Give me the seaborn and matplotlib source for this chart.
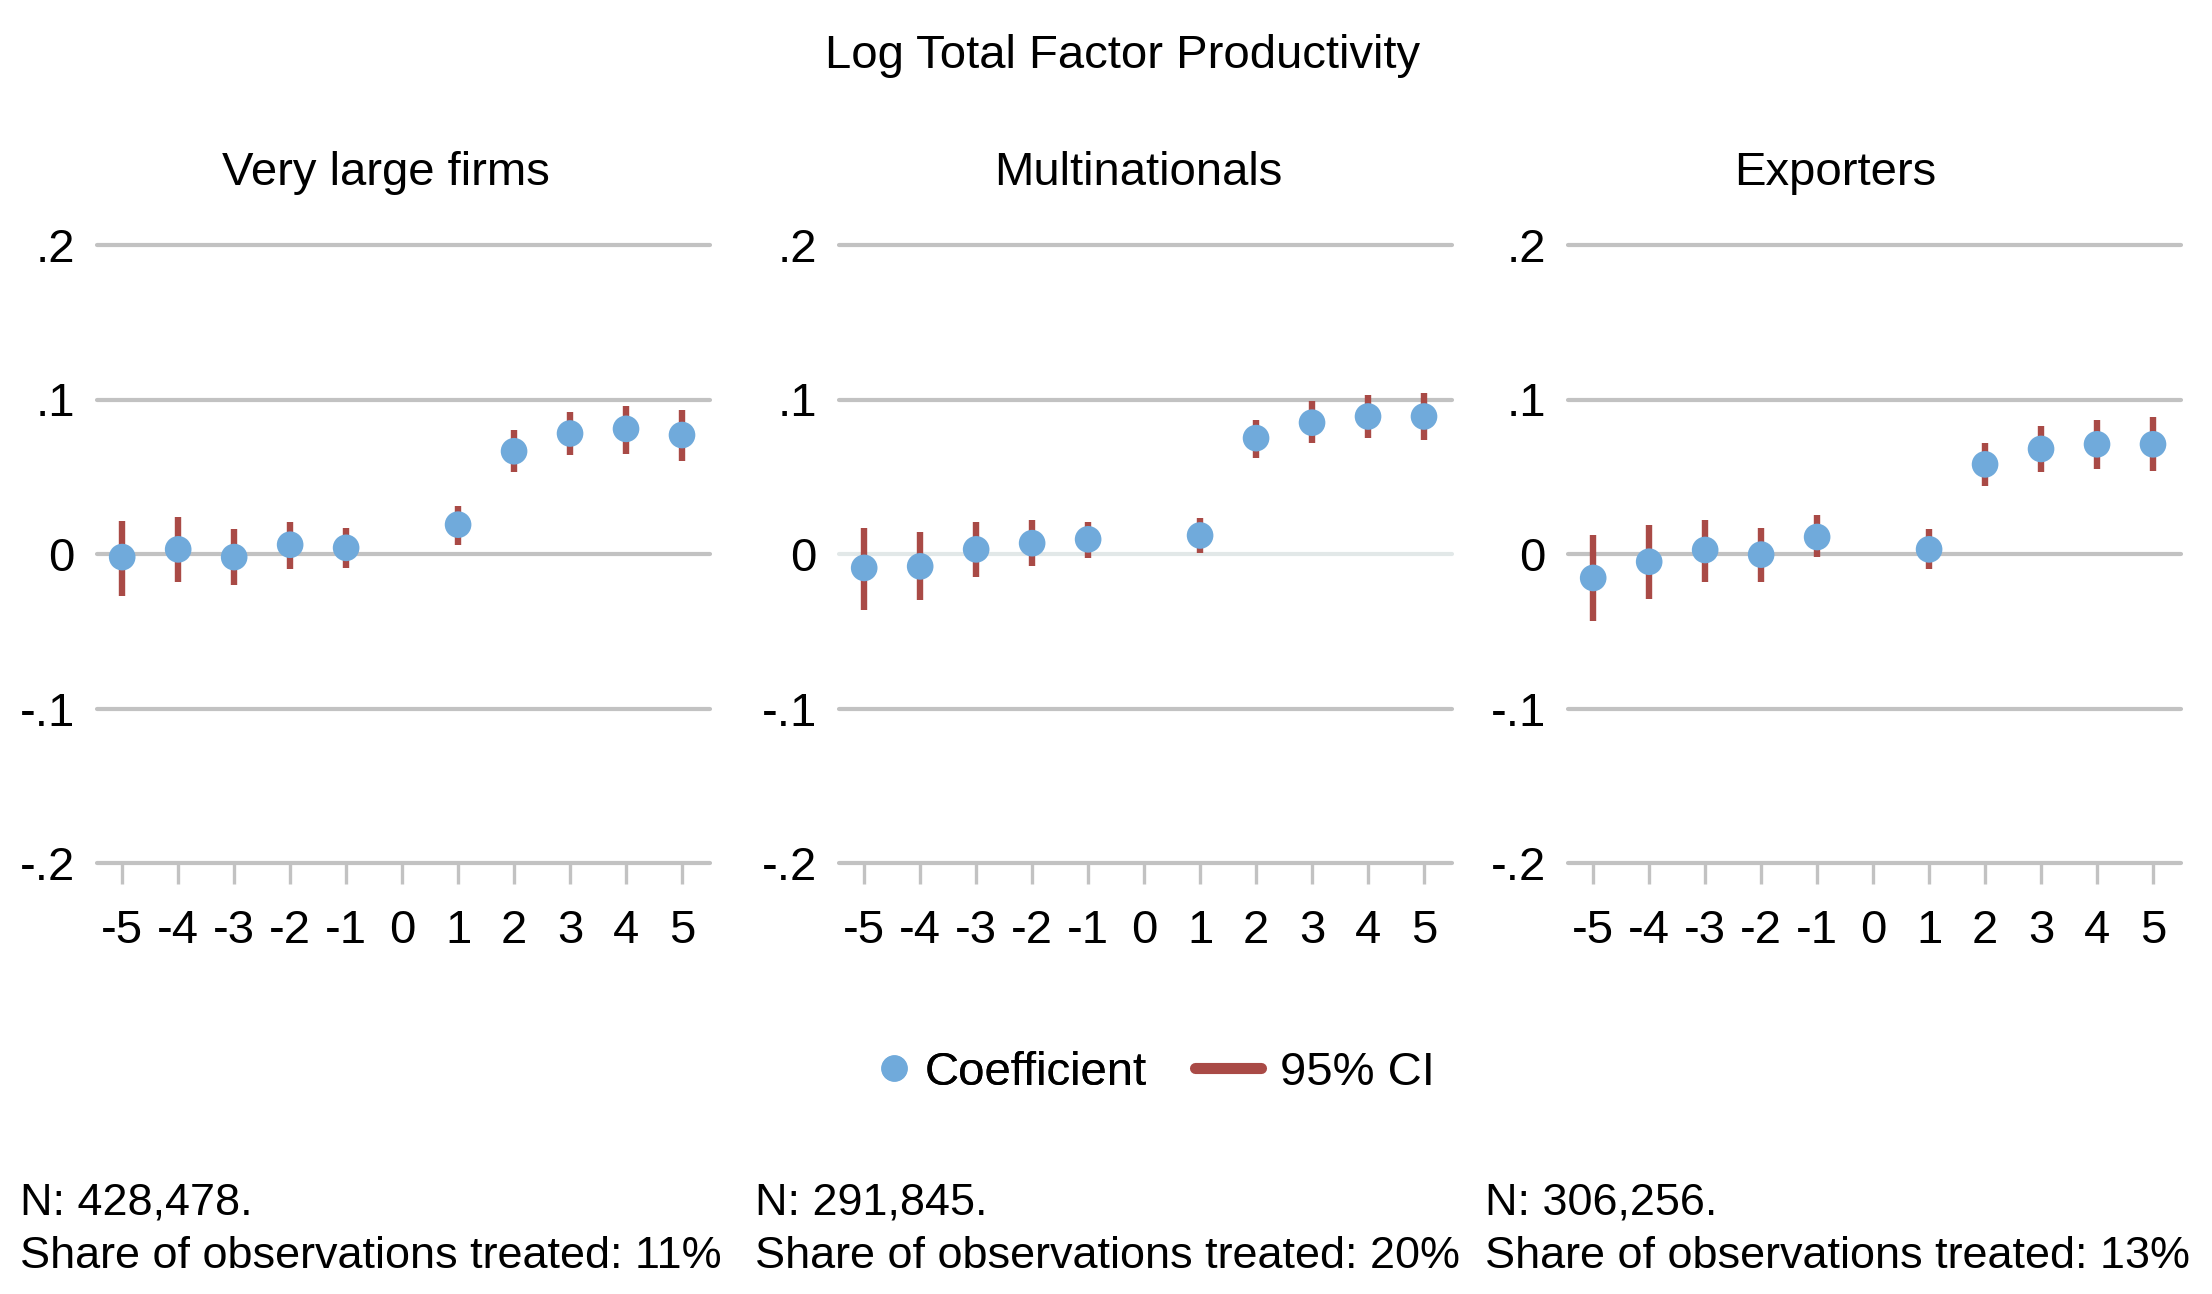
import numpy as np
import pandas as pd
import matplotlib
matplotlib.use("Agg")
import matplotlib.pyplot as plt
import seaborn as sns
from matplotlib.lines import Line2D

# ---------------- data ----------------
event_time = [-5, -4, -3, -2, -1, 1, 2, 3, 4, 5]
tick_values = [-5, -4, -3, -2, -1, 0, 1, 2, 3, 4, 5]
tick_labels = ["-5", "-4", "-3", "-2", "-1", "0", "1", "2", "3", "4", "5"]
ytick_values = [-0.2, -0.1, 0.0, 0.1, 0.2]
ytick_labels = ["-.2", "-.1", "0", ".1", ".2"]

panel_titles = ["Very large firms", "Multinationals", "Exporters"]

coef_large = [-0.002, 0.003, -0.002, 0.006, 0.004, 0.019, 0.0665, 0.078, 0.081, 0.077]
lo_large   = [-0.027, -0.018, -0.020, -0.010, -0.009, 0.006, 0.053, 0.064, 0.065, 0.060]
hi_large   = [0.0216, 0.024, 0.016, 0.021, 0.017, 0.031, 0.080, 0.092, 0.096, 0.093]

coef_multi = [-0.009, -0.008, 0.003, 0.007, 0.0095, 0.012, 0.075, 0.085, 0.089, 0.089]
lo_multi   = [-0.036, -0.030, -0.015, -0.008, -0.0026, 0.0004, 0.062, 0.072, 0.075, 0.074]
hi_multi   = [0.017, 0.014, 0.021, 0.022, 0.021, 0.023, 0.087, 0.099, 0.103, 0.104]

coef_exp = [-0.0155, -0.005, 0.0026, -0.0004, 0.011, 0.003, 0.058, 0.068, 0.071, 0.071]
lo_exp   = [-0.0436, -0.029, -0.018, -0.018, -0.002, -0.010, 0.044, 0.053, 0.055, 0.054]
hi_exp   = [0.012, 0.019, 0.022, 0.017, 0.025, 0.016, 0.072, 0.083, 0.087, 0.0886]

n_obs = ["428,478", "291,845", "306,256"]
share_treated = ["11%", "20%", "13%"]

main_title = "Log Total Factor Productivity"

# ---------------- style ----------------
sns.set_theme(style="white")
plt.rcParams["font.family"] = ["Liberation Sans", "DejaVu Sans"]
plt.rcParams["axes.unicode_minus"] = False
plt.rcParams["text.color"] = "black"
plt.rcParams["xtick.labelcolor"] = "black"
plt.rcParams["ytick.labelcolor"] = "black"

BLUE = "#70aadb"
RED = "#a94a46"
GRID = "#c2c2c2"
FS = 17
FS_NOTE = 16.2

W, H = 2212, 1294
DPI = 200
fig = plt.figure(figsize=(W / DPI, H / DPI), dpi=DPI)
fig.patch.set_facecolor("white")

panels = [
    (coef_large, lo_large, hi_large),
    (coef_multi, lo_multi, hi_multi),
    (coef_exp, lo_exp, hi_exp),
]
lefts_px = [97, 839, 1568]
width_px = 613
ax_top_px, ax_bot_px = 245, 863
title_cx_px = [386, 1138, 1835]
text_left_px = [20, 755, 1485]

for i, (coef, lo, hi) in enumerate(panels):
    ax = fig.add_axes([lefts_px[i] / W, 1 - ax_bot_px / H, width_px / W,
                       (ax_bot_px - ax_top_px) / H])
    df = pd.DataFrame({"t": event_time, "b": coef, "lo": lo, "hi": hi})
    ax.vlines(df["t"], df["lo"], df["hi"], color=RED, lw=2.3, zorder=3)
    sns.scatterplot(data=df, x="t", y="b", ax=ax, color=BLUE, s=92,
                    edgecolor="none", zorder=4, legend=False)
    ax.set_xlim(-5.45, 5.5)
    ax.set_ylim(-0.2, 0.2)
    ax.set_xticks(tick_values)
    ax.set_xticklabels(tick_labels, fontsize=FS)
    ax.set_yticks(ytick_values)
    ax.set_yticklabels(ytick_labels, fontsize=FS)
    ax.set_xlabel("")
    ax.set_ylabel("")
    for s in ax.spines.values():
        s.set_visible(False)
    ax.tick_params(axis="x", length=7.5, width=1.2, color=GRID, pad=9,
                   labelcolor="black", bottom=True)
    ax.tick_params(axis="y", length=0, pad=8, labelcolor="black", left=True)
    ax.yaxis.grid(True, color=GRID, lw=1.5)
    ax.xaxis.grid(False)
    ax.set_axisbelow(True)
    for j, gl in enumerate(ax.get_ygridlines()):
        gl.set_clip_on(False)
        if i == 1 and j == 2:
            gl.set_color("#e2e8e8")
    fig.text(title_cx_px[i] / W, 1 - 173 / H, panel_titles[i], fontsize=FS,
             ha="center", va="center")
    fig.text(text_left_px[i] / W, 1 - 1203 / H, f"N: {n_obs[i]}.",
             fontsize=FS_NOTE, ha="left", va="center")
    fig.text(text_left_px[i] / W, 1 - 1256 / H,
             f"Share of observations treated: {share_treated[i]}",
             fontsize=FS_NOTE, ha="left", va="center")

fig.text(1123 / W, 1 - 56 / H, main_title, fontsize=FS, ha="center", va="center")

h_coef = Line2D([], [], marker="o", linestyle="none", markersize=9.5,
                markerfacecolor=BLUE, markeredgecolor="none")
h_ci = Line2D([], [], color=RED, lw=4, solid_capstyle="round")
leg1 = fig.legend([h_coef], ["Coefficient"], loc="center left",
                  bbox_to_anchor=(875 / W, 1 - 1073 / H), frameon=False,
                  fontsize=FS, handlelength=0.8, handletextpad=0.26,
                  borderpad=0, borderaxespad=0)
leg2 = fig.legend([h_ci], ["95% CI"], loc="center left",
                  bbox_to_anchor=(1195 / W, 1 - 1073 / H), frameon=False,
                  fontsize=FS, handlelength=1.4, handletextpad=0.4,
                  borderpad=0, borderaxespad=0)
fig.add_artist(leg1)

fig.savefig("out.png", dpi=DPI, facecolor="white")
